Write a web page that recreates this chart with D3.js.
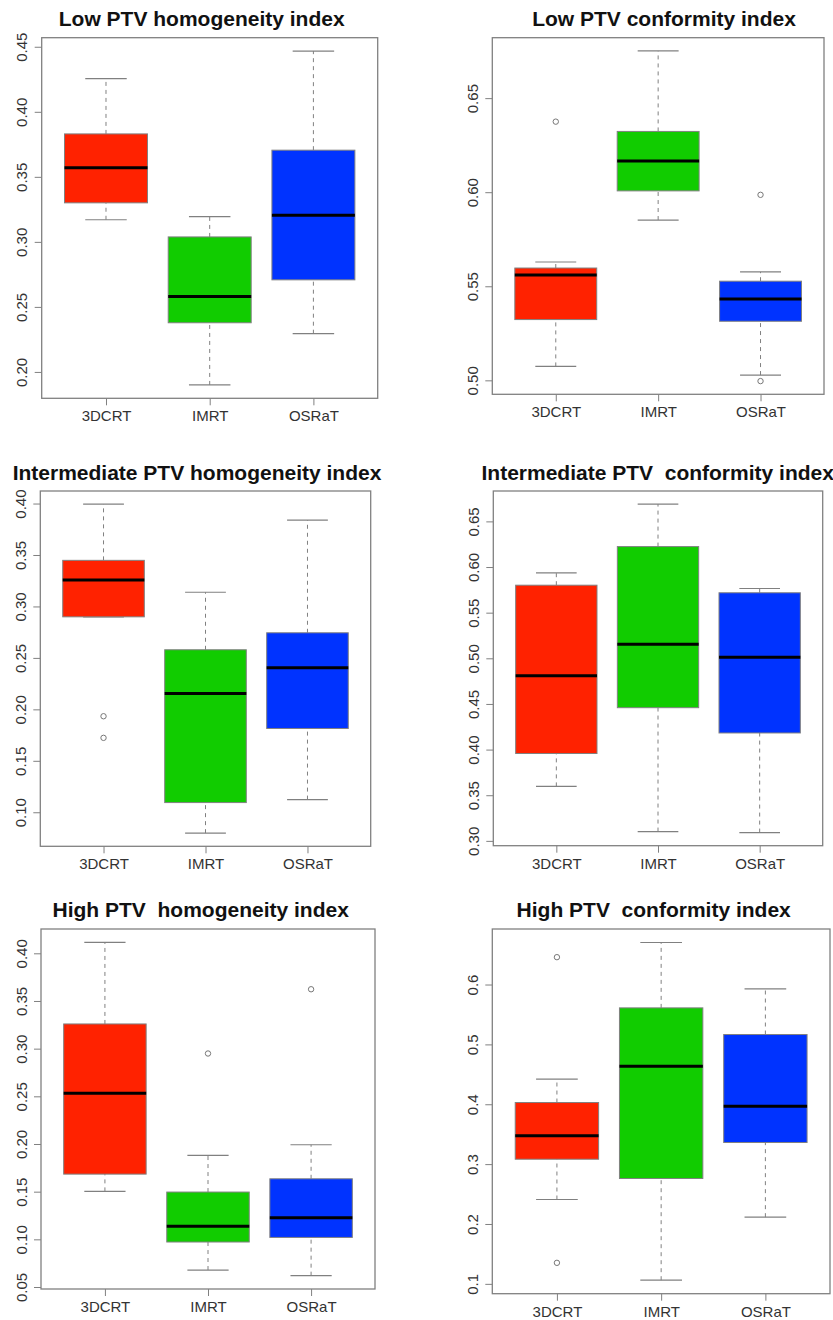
<!DOCTYPE html>
<html>
<head>
<meta charset="utf-8">
<script src="https://cdn.jsdelivr.net/npm/d3@7"></script>
<style>
  body { margin: 0; background: #fff; }
  svg { display: block; font-family: "Liberation Sans", Arial, Helvetica, sans-serif; }
</style>
</head>
<body>
<div id="chart"></div>
<script>
const groups = ["3DCRT", "IMRT", "OSRaT"];
const color = d3.scaleOrdinal()
  .domain(groups)
  .range(["#ff2200", "#11cc00", "#0033ff"]);

// five-number summaries per group: [lower whisker, Q1, median, Q3, upper whisker]
const lowHI = [
  [0.317, 0.330, 0.357, 0.383, 0.4255],
  [0.190, 0.2378, 0.258, 0.3038, 0.3194],
  [0.2294, 0.2708, 0.3204, 0.3705, 0.4467]
];
const lowHIOut = [[], [], []];
const lowHITicks = [0.20, 0.25, 0.30, 0.35, 0.40, 0.45];

const lowCI = [
  [0.5074, 0.5323, 0.556, 0.5597, 0.5629],
  [0.5852, 0.6007, 0.6166, 0.6323, 0.6751],
  [0.5028, 0.5314, 0.5433, 0.5527, 0.5576]
];
const lowCIOut = [[0.6375], [], [0.5986, 0.4996]];
const lowCITicks = [0.50, 0.55, 0.60, 0.65];

const intHI = [
  [0.2899, 0.2899, 0.3257, 0.3448, 0.3994],
  [0.0797, 0.1094, 0.2153, 0.2579, 0.3138],
  [0.1123, 0.1814, 0.2405, 0.2744, 0.3839]
];
const intHIOut = [[0.1933, 0.1723], [], []];
const intHITicks = [0.10, 0.15, 0.20, 0.25, 0.30, 0.35, 0.40];

const intCI = [
  [0.3597, 0.3957, 0.4808, 0.5801, 0.5936],
  [0.3102, 0.4459, 0.5154, 0.6224, 0.6689],
  [0.3091, 0.4182, 0.5012, 0.5718, 0.5765]
];
const intCIOut = [[], [], []];
const intCITicks = [0.30, 0.35, 0.40, 0.45, 0.50, 0.55, 0.60, 0.65];

const highHI = [
  [0.1503, 0.1684, 0.2533, 0.3259, 0.4115],
  [0.0678, 0.0972, 0.1136, 0.1496, 0.188],
  [0.0619, 0.102, 0.1227, 0.1635, 0.1992]
];
const highHIOut = [[], [0.2949], [0.3623]];
const highHITicks = [0.05, 0.10, 0.15, 0.20, 0.25, 0.30, 0.35, 0.40];

const highCI = [
  [0.2409, 0.3082, 0.3472, 0.4029, 0.4419],
  [0.1061, 0.276, 0.4636, 0.561, 0.6702],
  [0.2114, 0.3361, 0.3968, 0.5165, 0.5928]
];
const highCIOut = [[0.6457, 0.1351], [], []];
const highCITicks = [0.1, 0.2, 0.3, 0.4, 0.5, 0.6];

const panels = [
  { title: "Low PTV homogeneity index", stats: lowHI, out: lowHIOut, ticks: lowHITicks, fmt: ".2f",
    x0: 41.7, x1: 377.7, y0: 37.7, y1: 398.3, tx: 201.7, ty: 25.5 },
  { title: "Low PTV conformity index", stats: lowCI, out: lowCIOut, ticks: lowCITicks, fmt: ".2f",
    x0: 492.3, x1: 824, y0: 37.7, y1: 394.3, tx: 664, ty: 25.5 },
  { title: "Intermediate PTV homogeneity index", stats: intHI, out: intHIOut, ticks: intHITicks, fmt: ".2f",
    x0: 40.3, x1: 370.7, y0: 491, y1: 846.3, tx: 197, ty: 480 },
  { title: "Intermediate PTV\u00a0 conformity index", stats: intCI, out: intCIOut, ticks: intCITicks, fmt: ".2f",
    x0: 493.3, x1: 822.7, y0: 491, y1: 845.7, tx: 657.7, ty: 480 },
  { title: "High PTV\u00a0 homogeneity index", stats: highHI, out: highHIOut, ticks: highHITicks, fmt: ".2f",
    x0: 41, x1: 375, y0: 929, y1: 1289, tx: 200.7, ty: 917.3 },
  { title: "High PTV\u00a0 conformity index", stats: highCI, out: highCIOut, ticks: highCITicks, fmt: ".1f",
    x0: 492.3, x1: 830, y0: 929, y1: 1293.7, tx: 653.7, ty: 917.3 }
];

const svg = d3.select("#chart")
  .append("svg")
  .attr("width", 833)
  .attr("height", 1320);

svg.append("rect")
  .attr("width", 833)
  .attr("height", 1320)
  .attr("fill", "#fff");

const lineCol = "#808080";

panels.forEach(drawPanel);

function drawPanel(p) {
  const g = svg.append("g");

  // R style: data range extended by 4%
  const all = p.stats.flat().concat(p.out.flat());
  const [lo, hi] = d3.extent(all);
  const pad = (hi - lo) * 0.04;

  const y = d3.scaleLinear()
    .domain([lo - pad, hi + pad])
    .range([p.y1, p.y0]);

  const x = d3.scalePoint()
    .domain(groups)
    .range([p.x0, p.x1])
    .padding(0.62);

  const boxW = x.step() * 0.8;

  // title
  g.append("text")
    .attr("x", p.tx)
    .attr("y", p.ty)
    .attr("text-anchor", "middle")
    .style("font-size", "21px")
    .style("font-weight", "bold")
    .style("fill", "#111")
    .text(p.title);

  // y axis
  const yAxis = g.append("g")
    .attr("transform", `translate(${p.x0},0)`)
    .call(d3.axisLeft(y).tickValues(p.ticks).tickFormat(d3.format(p.fmt)).tickSize(7).tickPadding(0));
  yAxis.select(".domain").remove();
  yAxis.selectAll(".tick line").attr("stroke", lineCol);
  yAxis.selectAll(".tick text")
    .attr("x", null).attr("dy", null)
    .attr("transform", "translate(-14.5,0) rotate(-90)")
    .attr("text-anchor", "middle")
    .style("font-size", "15px")
    .style("fill", "#333")
    .style("font-family", "inherit");

  // x axis
  const xAxis = g.append("g")
    .attr("transform", `translate(0,${p.y1})`)
    .call(d3.axisBottom(x).tickSize(7).tickPadding(0));
  xAxis.select(".domain").remove();
  xAxis.selectAll(".tick line").attr("stroke", lineCol);
  xAxis.selectAll(".tick text")
    .attr("y", 23).attr("dy", null)
    .style("font-size", "15px")
    .style("fill", "#333")
    .style("font-family", "inherit");

  const boxes = g.append("g")
    .selectAll("g")
    .data(groups.map((name, i) => ({ name, s: p.stats[i], out: p.out[i] })))
    .join("g")
    .attr("transform", d => `translate(${x(d.name)},0)`);

  // dashed whiskers
  boxes.append("line")
    .attr("y1", d => y(d.s[0])).attr("y2", d => y(d.s[1]))
    .attr("stroke", lineCol).attr("stroke-dasharray", "4,4");
  boxes.append("line")
    .attr("y1", d => y(d.s[3])).attr("y2", d => y(d.s[4]))
    .attr("stroke", lineCol).attr("stroke-dasharray", "4,4");

  // staples
  boxes.selectAll(".staple")
    .data(d => [d.s[0], d.s[4]])
    .join("line")
    .attr("class", "staple")
    .attr("x1", -boxW / 4).attr("x2", boxW / 4)
    .attr("y1", v => y(v)).attr("y2", v => y(v))
    .attr("stroke", lineCol).attr("stroke-width", 1.2);

  boxes.append("rect")
    .attr("x", -boxW / 2)
    .attr("width", boxW)
    .attr("y", d => y(d.s[3]))
    .attr("height", d => y(d.s[1]) - y(d.s[3]))
    .attr("fill", d => color(d.name))
    .attr("stroke", lineCol);

  boxes.append("line")
    .attr("x1", -boxW / 2).attr("x2", boxW / 2)
    .attr("y1", d => y(d.s[2])).attr("y2", d => y(d.s[2]))
    .attr("stroke", "#000").attr("stroke-width", 3);

  // outliers
  boxes.selectAll("circle")
    .data(d => d.out)
    .join("circle")
    .attr("cy", v => y(v))
    .attr("r", 2.7)
    .attr("fill", "none")
    .attr("stroke", "#777");

  // frame
  g.append("rect")
    .attr("x", p.x0).attr("y", p.y0)
    .attr("width", p.x1 - p.x0).attr("height", p.y1 - p.y0)
    .attr("fill", "none")
    .attr("stroke", lineCol)
    .attr("stroke-width", 1.3);
}
</script>
</body>
</html>
